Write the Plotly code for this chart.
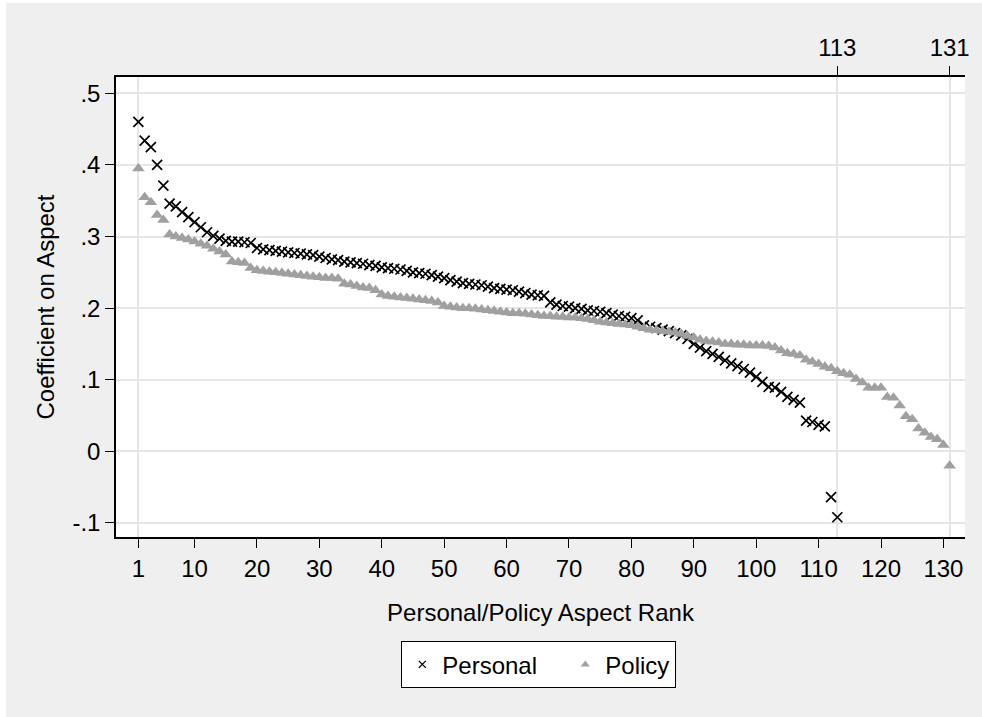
import plotly.graph_objects as go

personal_values = [
    0.460, 0.434, 0.425, 0.400, 0.371, 0.346, 0.342, 0.334, 0.327, 0.320,
    0.313, 0.306, 0.301, 0.297, 0.294, 0.293, 0.293, 0.292, 0.291,
    0.284, 0.282, 0.281, 0.280, 0.279, 0.278, 0.277, 0.276, 0.275, 0.274,
    0.272, 0.270, 0.268, 0.267, 0.265, 0.264, 0.263, 0.262, 0.260, 0.259,
    0.257, 0.256, 0.255, 0.254, 0.252, 0.250, 0.249, 0.248, 0.246, 0.244,
    0.242, 0.239, 0.237, 0.235, 0.234, 0.233, 0.232, 0.230, 0.228, 0.227,
    0.226, 0.225, 0.223, 0.221, 0.219, 0.218, 0.217,
    0.208, 0.205, 0.203,
    0.202, 0.200, 0.199, 0.197, 0.196, 0.195, 0.193, 0.191, 0.189, 0.188,
    0.186, 0.183, 0.176, 0.174, 0.172, 0.170, 0.168, 0.165, 0.162, 0.157,
    0.150, 0.145, 0.140, 0.136, 0.132, 0.127, 0.123, 0.119, 0.115, 0.110,
    0.104,
    0.097, 0.090, 0.089, 0.083, 0.076, 0.072, 0.068, 0.043, 0.041, 0.037,
    0.035, -0.064, -0.092,
]

policy_values = [
    0.395, 0.355, 0.348, 0.330, 0.323, 0.303,
    0.300, 0.298, 0.296, 0.293, 0.290, 0.287, 0.283, 0.279, 0.275, 0.265,
    0.264, 0.263, 0.256, 0.253, 0.252, 0.251, 0.250, 0.249, 0.248, 0.247,
    0.246, 0.245, 0.244, 0.243, 0.242, 0.242, 0.241, 0.234, 0.233, 0.231,
    0.229, 0.228, 0.225, 0.219, 0.217, 0.216, 0.215, 0.214, 0.213, 0.212,
    0.211, 0.210, 0.208, 0.203, 0.202, 0.201, 0.200, 0.200, 0.199, 0.198,
    0.197, 0.196, 0.195, 0.194, 0.193, 0.193, 0.192, 0.191, 0.190, 0.189,
    0.189, 0.188, 0.188, 0.187, 0.187, 0.186, 0.185, 0.183, 0.181, 0.180,
    0.179, 0.178, 0.177, 0.176, 0.174, 0.172, 0.170, 0.169, 0.168, 0.167,
    0.166, 0.164, 0.161, 0.159,
    0.156, 0.154, 0.153, 0.152, 0.150, 0.150, 0.149, 0.149, 0.148, 0.148,
    0.148, 0.147, 0.145, 0.141, 0.137, 0.136, 0.134, 0.128, 0.125, 0.122,
    0.118, 0.116, 0.112, 0.109, 0.107, 0.101, 0.096, 0.089, 0.089, 0.089,
    0.076, 0.075, 0.064, 0.049, 0.045, 0.032, 0.026, 0.020, 0.017, 0.009,
    -0.020,
]

personal_ranks = list(range(1, len(personal_values) + 1))
policy_ranks = list(range(1, len(policy_values) + 1))

x_tick_values = [1, 10, 20, 30, 40, 50, 60, 70, 80, 90, 100, 110, 120, 130]
x_tick_labels = [str(v) for v in x_tick_values]
top_tick_values = [len(personal_values), len(policy_values)]
y_tick_values = [-0.1, 0, 0.1, 0.2, 0.3, 0.4, 0.5]
y_tick_labels = ["-.1", "0", ".1", ".2", ".3", ".4", ".5"]

FONT = "Liberation Sans, Arial, sans-serif"
FS = 24
GRID = "#e6e6e6"
POLICY_GRAY = "#a0a0a0"
W, H = 982, 717
L, R, T, B = 116, 17, 77, 180
pw, ph = W - L - R, H - T - B

fig = go.Figure()
fig.add_trace(go.Scatter(
    x=personal_ranks, y=personal_values, mode="markers", name="Personal",
    showlegend=False,
    marker=dict(symbol="x-thin", size=10, color="black",
                line=dict(color="black", width=1.7)),
))
fig.add_trace(go.Scatter(
    x=policy_ranks, y=policy_values, mode="markers", name="Policy",
    showlegend=False,
    marker=dict(symbol="triangle-up", size=11, color=POLICY_GRAY,
                line=dict(width=0)),
))
# legend entries (smaller symbols, as in the original key)
fig.add_trace(go.Scatter(
    x=[None], y=[None], mode="markers", name="Personal", legendwidth=118,
    marker=dict(symbol="x-thin", size=7, color="black",
                line=dict(color="black", width=1.3)),
))
fig.add_trace(go.Scatter(
    x=[None], y=[None], mode="markers", name="Policy",
    marker=dict(symbol="triangle-up", size=8, color=POLICY_GRAY,
                line=dict(width=0)),
))
# invisible trace to anchor the top axis
fig.add_trace(go.Scatter(x=[None], y=[None], xaxis="x2", showlegend=False,
                         hoverinfo="skip"))

xrange = [-2.59, 133.46]
fig.update_layout(
    width=W, height=H,
    margin=dict(l=L, r=R, t=T, b=B),
    paper_bgcolor="#efefef",
    plot_bgcolor="white",
    font=dict(family=FONT, size=FS, color="black"),
    xaxis=dict(
        range=xrange, tickmode="array", tickvals=x_tick_values,
        ticktext=x_tick_labels, ticks="outside", ticklen=9, tickwidth=1.3,
        tickcolor="black", showgrid=False, zeroline=False,
        showline=True, linecolor="black", linewidth=1.5,
        tickfont=dict(size=FS),
        minor=dict(tickmode="array", tickvals=[1], showgrid=True,
                   gridcolor=GRID, gridwidth=2, ticks=""),
        title=dict(text="Personal/Policy Aspect Rank", standoff=24,
                   font=dict(size=FS)),
    ),
    xaxis2=dict(
        range=xrange, overlaying="x", side="top", tickmode="array",
        tickvals=top_tick_values, ticks="outside", ticklen=9, tickwidth=1.3,
        tickcolor="black", showgrid=True, gridcolor=GRID, gridwidth=2,
        zeroline=False, showline=True, linecolor="black", linewidth=2,
        tickfont=dict(size=FS),
    ),
    yaxis=dict(
        range=[-0.1196, 0.5228], tickmode="array", tickvals=y_tick_values,
        ticktext=y_tick_labels, ticks="outside", ticklen=9, tickwidth=1.3,
        tickcolor="black", showgrid=True, gridcolor=GRID, gridwidth=2,
        zeroline=False, showline=True, linecolor="black", linewidth=1.5,
        tickfont=dict(size=FS),
        title=dict(text="Coefficient on Aspect", standoff=11,
                   font=dict(size=FS)),
    ),
    legend=dict(
        orientation="h", x=(401 - L) / pw, xanchor="left",
        y=(T + ph - 641) / ph, yanchor="top", bgcolor="white",
        bordercolor="black", borderwidth=1.3, font=dict(size=FS),
        itemsizing="trace",
    ),
    showlegend=True,
    shapes=[
        dict(type="rect", xref="paper", yref="paper", layer="below",
             x0=-L / pw, x1=(6 - L) / pw, y0=-B / ph, y1=(T + ph) / ph,
             fillcolor="white", line=dict(width=0)),
        dict(type="rect", xref="paper", yref="paper", layer="below",
             x0=-L / pw, x1=(W - L) / pw, y0=(ph + T - 3) / ph,
             y1=(ph + T) / ph, fillcolor="white", line=dict(width=0)),
    ],
)

fig.write_html(
    "out.html",
    config={"displayModeBar": False},
    post_script="document.body.style.margin='0px';"
                "document.body.style.overflow='hidden';",
)
